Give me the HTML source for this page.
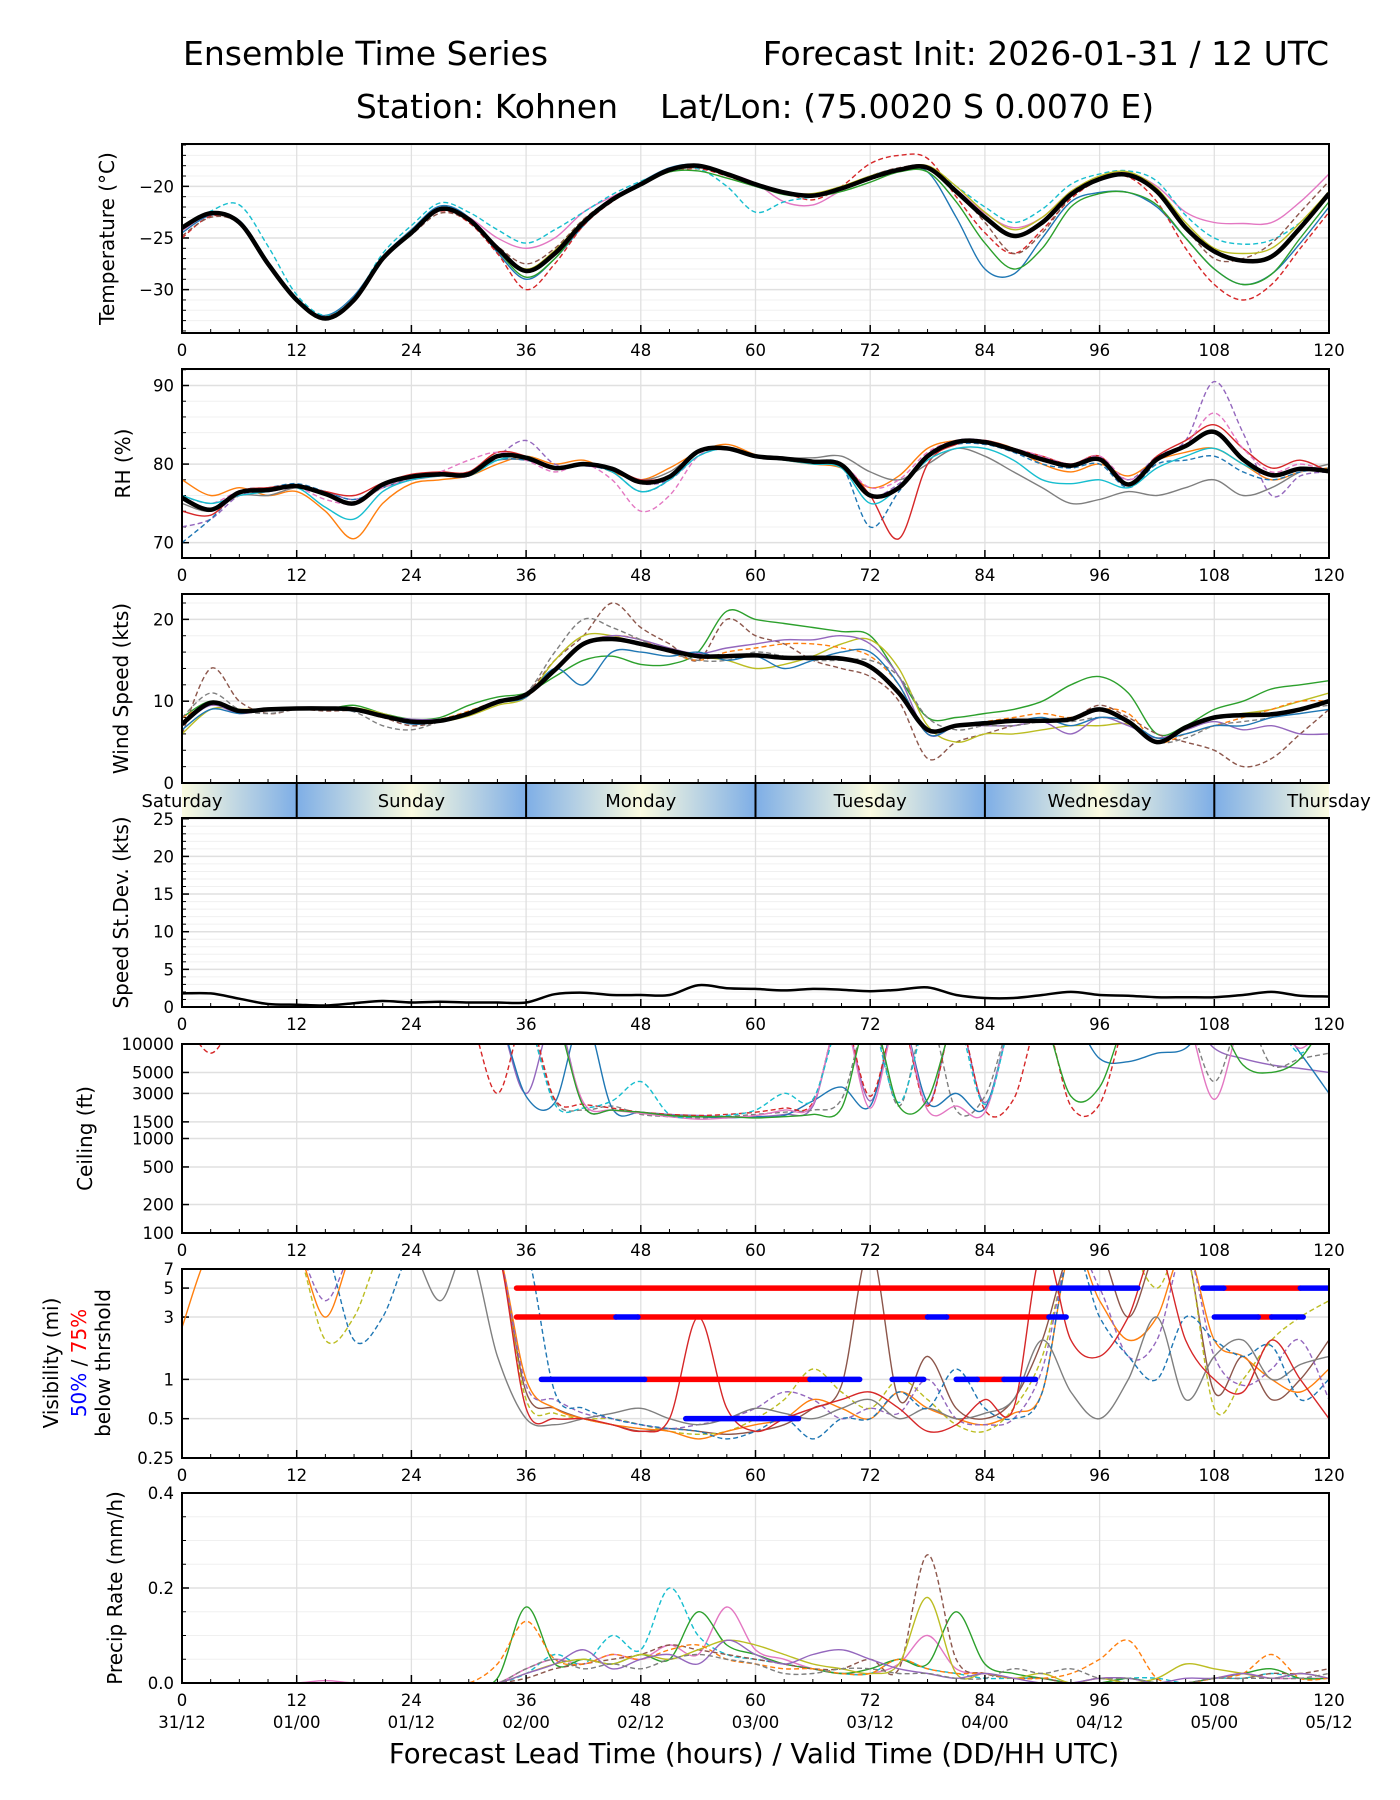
<!DOCTYPE html>
<html><head><meta charset="utf-8">
<style>
html,body{margin:0;padding:0;background:#fff;}
svg{display:block;font-family:"DejaVu Sans","Liberation Sans",sans-serif;}
</style></head>
<body>
<svg id="fig" xmlns="http://www.w3.org/2000/svg" width="1400" height="1800" viewBox="0 0 1400 1800">
<defs>
<linearGradient id="p2b" x1="0" y1="0" x2="1" y2="0"><stop offset="0" stop-color="#fbfbe0"/><stop offset="1" stop-color="#7eaee6"/></linearGradient>
<linearGradient id="b2p" x1="0" y1="0" x2="1" y2="0"><stop offset="0" stop-color="#7eaee6"/><stop offset="1" stop-color="#fbfbe0"/></linearGradient>
</defs>
<rect width="1400" height="1800" fill="#fff"/>
<text x="183" y="65" font-size="33">Ensemble Time Series</text>
<text x="1329" y="65" font-size="33" text-anchor="end">Forecast Init: 2026-01-31 / 12 UTC</text>
<text x="755" y="118" font-size="33" text-anchor="middle" xml:space="preserve">Station: Kohnen    Lat/Lon: (75.0020 S 0.0070 E)</text>
<g id="band"></g>
<g id="plots"></g>
<text x="754" y="1763" font-size="27.5" text-anchor="middle">Forecast Lead Time (hours) / Valid Time (DD/HH UTC)</text>
<g font-size="20" text-anchor="middle">
<text transform="translate(58,1363) rotate(-90)">Visibility (mi)</text>
<text transform="translate(86,1363) rotate(-90)"><tspan fill="#0000ff">50%</tspan> / <tspan fill="#ff0000">75%</tspan></text>
<text transform="translate(110,1363) rotate(-90)">below thrshold</text>
</g>
</svg>
<script>
// ---------- data (3-hourly, lead hours 0..120) ----------
const hours = Array.from({length:41},(_,i)=>i*3);
const xTicks = [0,12,24,36,48,60,72,84,96,108,120];
const validLabels = ["31/12","01/00","01/12","02/00","02/12","03/00","03/12","04/00","04/12","05/00","05/12"];
const dayNames = ["Saturday","Sunday","Monday","Tuesday","Wednesday","Thursday"];

const tempMean = [-24,-22.6,-23.5,-27.5,-31,-32.8,-31,-27,-24.5,-22.2,-23.2,-26,-28.2,-26.5,-23.5,-21.3,-19.8,-18.4,-18,-18.8,-19.8,-20.6,-20.9,-20.2,-19.2,-18.4,-18.2,-20.5,-23,-24.8,-23.5,-20.8,-19.3,-18.9,-20.5,-24,-26.3,-27.2,-26.8,-24,-20.7];
const tempM1 = [-24.5,-22.8,-23.3,-27.3,-31.2,-32.5,-30.6,-26.8,-24.2,-21.9,-23,-26.4,-29,-27,-23.8,-21.2,-19.6,-18.2,-17.9,-18.9,-20,-20.7,-21,-20.1,-19,-18.3,-18.6,-23,-28,-28.5,-25,-21.5,-20.6,-20.6,-22,-25,-28,-29.5,-28.5,-25.5,-22];
const tempM2 = [-25,-22.9,-23.6,-27.6,-31.1,-32.9,-31.2,-27.2,-24.6,-22.4,-23.5,-26.5,-30,-27.5,-23.8,-21.5,-19.9,-18.6,-18.3,-19,-20,-20.6,-21.3,-20,-17.8,-17,-17.3,-21,-24.5,-26.5,-24.2,-21.2,-19.4,-19.1,-21.5,-26,-29.5,-31,-29.5,-26,-22.5];
const tempM3 = [-24.3,-22.7,-23.4,-27.4,-31,-32.7,-31,-27,-24.4,-22.1,-23,-25,-26,-25,-22.5,-21,-19.7,-18.3,-18,-18.7,-19.7,-21.5,-21.8,-20.4,-19.3,-18.5,-18.3,-20.3,-22.6,-24,-23,-20.5,-19.1,-18.7,-20,-22.5,-23.5,-23.6,-23.5,-21.5,-18.8];
const tempM4 = [-24.2,-22.4,-21.8,-25.8,-30.5,-32.5,-30.8,-26.5,-23.8,-21.6,-22.5,-24.2,-25.5,-24.2,-22.5,-20.8,-19.5,-18.5,-18.3,-20,-22.5,-21.5,-21,-20.3,-19.3,-18.5,-18.2,-20,-22,-23.5,-22.2,-19.8,-18.8,-18.5,-19.5,-22.8,-25,-25.6,-25.2,-23.5,-21];
const tempM5 = [-24,-22.6,-23.5,-27.5,-31,-32.8,-31,-27,-24.5,-22.3,-23.3,-26.2,-28.8,-27,-23.6,-21.4,-19.9,-18.6,-18.5,-19.2,-20,-20.8,-21,-20.5,-19.6,-18.6,-18.6,-21.5,-25.5,-28,-26,-22,-20.7,-20.6,-21.8,-25,-28,-29.5,-28.5,-25,-21.5];
const tempM6 = [-24.8,-23,-23.6,-27.5,-31,-32.6,-30.8,-27,-24.7,-22.6,-23.3,-25.8,-27.5,-26,-23.2,-21.2,-19.8,-18.5,-18.2,-18.7,-19.7,-20.5,-21,-20.1,-19,-18.2,-18.1,-20.3,-23.5,-26.5,-24.5,-21,-19.4,-19,-20.5,-24,-27,-27,-25.5,-22.5,-19.5];
const tempM7 = [-24.2,-22.5,-23.4,-27.6,-31.2,-32.9,-30.9,-26.9,-24.3,-22.1,-23.1,-25.9,-28,-26.2,-23.3,-21.2,-19.7,-18.3,-18,-18.8,-19.8,-20.6,-20.7,-20,-19,-18.3,-18,-20,-22.5,-24.2,-23,-20.5,-19,-18.6,-20.2,-23.5,-26,-26.5,-26,-23.5,-20.5];

const rhMean = [75.7,74.2,76.4,76.7,77.2,76.2,75,77.4,78.4,78.7,78.7,81,80.8,79.5,80,79.4,77.7,78.4,81.6,82,81,80.7,80.3,79.9,76,77,81,82.8,82.8,81.8,80.6,79.8,80.6,77.4,80.6,82.3,84.1,80.6,78.6,79.4,79.1];
const rhM1 = [78,76,77,76,76.5,74,70.5,75,77.5,78,78.5,80,81,80,80.5,79,78,79.5,81.5,82.5,81.2,80.5,80,79.5,77,78.5,82,83,83,82,80,79,80,78.5,80.5,81.5,82,80,78,79,79.5];
const rhM2 = [72,73,76,76.5,77,76.5,75.5,77,78.2,78.5,78.5,81,83,80,79.8,79.2,77.5,78,81,82,81,80.6,80.2,79.8,76,77.5,81,83,83,82,80.8,80,80.5,78,81,83,90.5,84,76,78.5,79];
const rhM3 = [75,74,76,76,77,76.5,75,77,78,78.5,79,80.5,80.5,79.5,80.2,79.5,78,79,81.5,82,81,80.8,80.8,81,79,78,80,82,81,79,77,75,75.5,76.5,76,77,78,76,77,79,80];
const rhM4 = [70,73,76.5,77,77.5,76.5,75.5,77,78,78.5,78.5,80.5,80.5,79.5,79.8,79,76.5,78,81.5,82,81,80.7,80.3,79.8,72,76.5,81,82.5,82.5,81.5,80,79.5,80,77,80,80.5,81,79,78,79,79.5];
const rhM5 = [74,73.5,76.5,77,77.3,76.5,76,77.6,78.7,79,79,81.5,81,79.5,80,79.5,78,78.5,81.5,82,81,80.7,80.3,80,76,70.5,80,82.5,83,82,81,80,81,77.5,81,83,85,82,79.5,80.5,79];
const rhM6 = [76,75,76.5,76.5,77,75.5,75,77,78,79,80.5,81.5,80.5,79,80,78,74,76,81,82,81,80.6,80.3,80,77,78,81.5,83,83,82,81,80,81,78,80.5,82.5,86.5,82,79,80,79];
const rhM7 = [76,75,76,76.5,77,74.5,73,76.5,78,78.5,78.5,80.5,81,79.5,80,79,76.5,78,81,82,81,80.5,80,79.5,75,77,80.5,82,82,80.5,78,77.5,78,77,79.5,81,82,80,78.5,79.5,79];

const windMean = [7.2,9.8,8.8,9.0,9.1,9.1,9.0,8.2,7.5,7.6,8.5,9.9,10.8,13.8,17,17.6,17,16.2,15.5,15.5,15.6,15.3,15.3,15.2,14.2,11,6.5,7,7.3,7.6,7.6,7.8,9.0,7.5,5.0,6.8,8.0,8.3,8.4,9.0,10];
const windM1 = [8,10,9,9,9.2,9,9.5,8.5,7.8,8,9.5,10.5,11,13,15,15.5,14.5,14.5,16,21,20,19.5,19,18.5,18,13,8,8,8.5,9,10,12,13,11,6,7,9,10,11.5,12,12.5];
const windM2 = [6,14,10,8.5,9,8.8,8.8,8,7,7.5,8.5,10,11,15,18,22,19,17,15,20,18,17,15,14,13,10,3,5,6,7,7.5,7.8,9.5,8,6,5,4,2,3,6,9];
const windM3 = [6,9,9,9,9,9.2,9.2,8.5,7.5,7.5,8.2,9.5,10.5,15,18,18,17,16.5,15.5,15,14,14.5,15.5,17,17.5,14,7,5,6,6,6.5,7,7,7.2,5.5,6.5,8,8.5,9,10,11];
const windM4 = [8,9.5,9,9,9,9,9,8,7.5,7.8,8.8,10,10.5,14,17,18,17.5,16,15,16,16.5,17,17,16.5,15.5,12,6,7,7.5,8,8.5,8,9,8.5,5,6,7,8,9,10,10];
const windM5 = [7,9.5,8.5,9,9.2,9,9,8.2,7.8,7.8,8.5,9.8,11,14,17,18,17.5,16.5,15.8,16.5,17,17.5,17.5,18,17,13,6,7,7,7,7.5,6,8,7,5.5,6.5,7.5,6.5,7,6,6];
const windM6 = [8,11,9,8.5,9,9,8.7,7,6.5,7.5,8.5,10,11,16,20,19,17.5,16,15,15,16,15.5,15,15,15,13,8,6.5,7,7,7.5,7.5,8,7.5,5,5.5,7,7.5,8,9,9.5];
const windM7 = [6.5,9,8.5,9,9,9,8.8,8.2,7.2,7.5,8.5,9.8,10.5,14,12,16,16,15.5,16,15,15.5,14,15,16,16,12,6,7,7.5,7.5,8,7,8,7.5,5.5,6,7,7,8,8.5,9];

const sdev = [1.8,1.8,1.1,0.4,0.3,0.2,0.5,0.8,0.6,0.7,0.6,0.6,0.6,1.7,1.9,1.6,1.6,1.6,2.9,2.5,2.4,2.2,2.4,2.3,2.1,2.3,2.6,1.6,1.2,1.2,1.6,2.0,1.6,1.5,1.3,1.3,1.3,1.6,2.0,1.5,1.4];

const ceilC1 = [20000,20000,20000,20000,20000,20000,20000,20000,20000,20000,20000,20000,3000,20000,2200,2000,1900,1800,1750,1700,1700,1800,2200,20000,2500,20000,2300,20000,2400,20000,20000,20000,20000,20000,20000,20000,9000,7000,6000,5500,5000];
const ceilC2 = [20000,20000,20000,20000,20000,20000,20000,20000,20000,20000,20000,20000,20000,2500,2000,2200,1800,1700,1650,1700,1800,1900,2000,2600,20000,2200,20000,2000,2800,20000,20000,20000,20000,20000,20000,20000,4000,20000,6000,7000,8000];
const ceilC3 = [20000,20000,20000,20000,20000,20000,20000,20000,20000,20000,20000,20000,2800,2400,20000,2100,1900,1750,1700,1650,1700,1750,2500,3500,2200,20000,2400,3000,2100,20000,20000,20000,7000,6500,8000,9000,20000,20000,20000,8000,3000];
const ceilC4 = [20000,8000,20000,20000,20000,20000,20000,20000,20000,20000,20000,3000,20000,2600,2300,2100,1900,1800,1750,1800,1900,2100,2400,20000,2800,20000,2200,20000,2000,2600,20000,2200,2300,20000,20000,20000,20000,20000,20000,20000,20000];
const ceilC5 = [20000,20000,20000,20000,20000,20000,20000,20000,20000,20000,20000,20000,20000,20000,2400,2000,1850,1700,1600,1650,1750,2000,2300,20000,2100,20000,2000,2200,1900,20000,20000,20000,20000,20000,20000,20000,2600,20000,20000,9000,20000];
const ceilC6 = [20000,20000,20000,20000,20000,20000,20000,20000,20000,20000,20000,20000,20000,2300,2100,2500,4000,1800,1700,1750,2000,3000,2600,20000,20000,2400,20000,20000,2300,20000,20000,20000,20000,20000,20000,20000,20000,20000,20000,8000,20000];
const ceilC7 = [20000,20000,20000,20000,20000,20000,20000,20000,20000,20000,20000,20000,20000,20000,2200,2000,1900,1750,1700,1700,1650,1700,1800,2100,20000,2200,2600,20000,20000,20000,20000,2800,3500,20000,20000,20000,20000,6000,5000,7000,20000];

const visV1 = [10,10,10,10,10,10,10,10,10,10,10,10,0.8,0.6,0.5,0.45,0.4,0.42,0.4,0.38,0.4,0.45,0.6,0.9,10,0.7,1.5,0.6,0.5,0.7,2,10,10,3,10,10,0.8,1.5,0.7,1,2];
const visV2 = [10,10,10,10,10,2,3,10,10,10,10,10,0.7,0.55,0.5,0.5,0.45,0.4,0.38,0.4,0.5,0.7,1.2,0.8,0.6,1,0.7,0.45,0.4,0.6,1.5,10,10,10,5,10,0.6,1,2,3,4];
const visV3 = [2.5,10,10,10,10,3,10,10,10,10,10,10,1,0.6,0.5,0.45,0.42,0.4,0.35,0.4,0.45,0.5,0.7,0.6,0.5,0.8,0.6,0.5,0.45,0.55,0.8,10,4,2,3,10,2,1.5,1,0.8,1.2];
const visV4 = [10,10,10,10,10,4,10,10,10,10,10,10,0.9,0.7,0.55,0.5,0.45,0.42,0.45,0.5,0.6,0.8,0.7,0.5,0.6,0.55,1,0.5,0.45,0.5,1.2,10,5,1.5,2,10,1.5,0.9,1.2,2,0.7];
const visV5 = [10,10,10,10,10,10,10,10,10,4,10,1.5,0.5,0.45,0.5,0.55,0.6,0.5,0.45,0.5,0.6,0.55,0.5,0.6,0.7,0.5,0.6,0.5,0.55,0.7,2,0.8,0.5,1,3,0.7,1.5,2,1,1.3,1.5];
const visV6 = [10,10,10,10,10,10,2,3,10,10,10,10,10,0.8,0.6,0.5,0.45,0.42,0.4,0.35,0.4,0.5,0.35,0.5,0.5,0.8,0.6,1.2,0.6,0.5,0.8,10,3,1.5,1,3,2,1.5,1.8,0.7,1];
const visV7 = [10,10,10,10,10,10,10,10,10,10,10,10,0.6,0.5,0.5,0.45,0.4,0.5,3,0.6,0.4,0.5,0.6,0.7,0.8,0.6,0.4,0.45,0.7,0.6,10,2,1.5,3,10,2,1,0.8,2,1,0.5];

// threshold bars: [startHour, endHour, level]
const thrRed = [[35,91,5],[109,117,5],[35,45.4,3],[47.7,78,3],[80,90.7,3],[112.6,114,3],[48.4,65.7,1],[83.2,86,1]];
const thrBlue = [[91,100,5],[106.8,109,5],[117,120,5],[45.4,47.7,3],[78,80,3],[90.7,92.5,3],[108,112.6,3],[114,117.3,3],[37.6,48.4,1],[65.7,70.9,1],[74.3,77.6,1],[81,83.2,1],[86,89.3,1],[52.7,64.5,0.5]];

const prP1 = [0,0,0,0,0,0.005,0,0,0,0,0,0,.03,.05,.04,.06,.05,.08,.06,.16,.07,.05,.03,.02,.02,.04,.1,.03,.02,.01,.01,0,.01,.01,0,0,.01,.02,.01,.01,.01];
const prP2 = [0,0,0,0,0,0,0,0,0,0,0,0,.02,.06,.04,.1,.07,.2,.1,.06,.05,.04,.03,.02,.02,.05,.03,.02,.01,.01,.01,0,0,.01,.01,0,.01,.01,.02,.01,.01];
const prP3 = [0,0,0,0,0,0,0,0,0,0,0,.01,.16,.04,.05,.04,.06,.05,.15,.08,.06,.04,.03,.02,.03,.05,.04,.15,.04,.02,.01,0,0,.01,0,0,.01,.02,.03,.01,.01];
const prP4 = [0,0,0,0,0,0,0,0,0,0,0,0,.01,.03,.04,.05,.06,.08,.07,.06,.05,.04,.03,.03,.05,.03,.27,.05,.02,.01,.01,0,.01,0,0,0,.01,.01,.02,.02,.03];
const prP5 = [0,0,0,0,0,0,0,0,0,0,0,0,.02,.04,.05,.04,.06,.05,.07,.09,.08,.06,.04,.03,.02,.04,.18,.02,.02,.01,.02,0,.01,0,.01,.04,.03,.02,.01,.02,.01];
const prP6 = [0,0,0,0,0,0,0,0,0,0,0,.04,.13,.05,.04,.06,.05,.07,.08,.05,.04,.03,.03,.02,.02,.05,.03,.02,.02,.01,.01,.02,.05,.09,.01,0,.01,.02,.06,.01,.01];
const prP7 = [0,0,0,0,0,0,0,0,0,0,0,0,.02,.04,.07,.03,.05,.06,.04,.09,.06,.04,.06,.07,.05,.03,.02,.01,.02,.01,0,0,.01,.01,0,.01,.01,.02,.01,.02,.01];
const prP8 = [0,0,0,0,0,0,0,0,0,0,0,0,.03,.05,.03,.04,.03,.05,.06,.05,.04,.02,.02,.03,.03,.02,.02,.01,.01,.03,.02,.03,.01,.01,0,0,.01,.01,.01,.01,.02];

// ---------- drawing ----------
const NS = "http://www.w3.org/2000/svg";
const X0 = 182, X1 = 1329;
const COLORS = ["#1f77b4","#ff7f0e","#2ca02c","#d62728","#9467bd","#8c564b","#e377c2","#7f7f7f","#bcbd22","#17becf"];
const plots = document.getElementById('plots');
function mk(tag, attrs, parent){ const e=document.createElementNS(NS,tag); for(const k in attrs) e.setAttribute(k,attrs[k]); (parent||plots).appendChild(e); return e; }
function sx(h){ return X0 + h/120*(X1-X0); }
function sy(p,v){
  if(p.log){ const lv=Math.log10(Math.max(v,1e-6)); const f=(lv-Math.log10(p.min))/(Math.log10(p.max)-Math.log10(p.min)); return p.bot - f*(p.bot-p.top); }
  return p.bot - (v-p.min)/(p.max-p.min)*(p.bot-p.top);
}
function smoothPath(pts){
  let d = "M"+pts[0][0].toFixed(1)+","+pts[0][1].toFixed(1);
  for(let i=0;i<pts.length-1;i++){
    const p0=pts[Math.max(0,i-1)], p1=pts[i], p2=pts[i+1], p3=pts[Math.min(pts.length-1,i+2)];
    const c1x=p1[0]+(p2[0]-p0[0])/6, c1y=p1[1]+(p2[1]-p0[1])/6;
    const c2x=p2[0]-(p3[0]-p1[0])/6, c2y=p2[1]-(p3[1]-p1[1])/6;
    d += " C"+c1x.toFixed(1)+","+c1y.toFixed(1)+" "+c2x.toFixed(1)+","+c2y.toFixed(1)+" "+p2[0].toFixed(1)+","+p2[1].toFixed(1);
  }
  return d;
}
function fmt(v){ return (v<0?"\u2212":"")+Math.abs(v); }

const panels = [
  {id:"temperature", top:144, bot:333, min:-34.2, max:-15.9, ticks:[-30,-25,-20], minor:1, title:"Temperature (\u00b0C)", tx:114,
   members:[tempM1,tempM2,tempM3,tempM4,tempM5,tempM6,tempM7], mean:tempMean},
  {id:"rh", top:369, bot:558, min:68.05, max:92.1, ticks:[70,80,90], minor:2, title:"RH (%)", tx:130,
   members:[rhM1,rhM2,rhM3,rhM4,rhM5,rhM6,rhM7], mean:rhMean},
  {id:"wind-speed", top:594, bot:783, min:0, max:23.1, ticks:[0,10,20], minor:2, title:"Wind Speed (kts)", tx:128, noXLabels:true,
   members:[windM1,windM2,windM3,windM4,windM5,windM6,windM7], mean:windMean},
  {id:"speed-stdev", top:818, bot:1007, min:0, max:25.1, ticks:[0,5,10,15,20,25], minor:1, title:"Speed St.Dev. (kts)", tx:128,
   members:[], mean:sdev, meanW:2.5},
  {id:"ceiling", top:1044, bot:1233, min:100, max:10000, log:true, ticks:[100,200,500,1000,1500,3000,5000,10000], title:"Ceiling (ft)", tx:92,
   members:[ceilC1,ceilC2,ceilC3,ceilC4,ceilC5,ceilC6,ceilC7]},
  {id:"visibility", top:1269, bot:1458, min:0.25, max:7, log:true, ticks:[0.25,0.5,1,3,5,7], title:null,
   members:[visV1,visV2,visV3,visV4,visV5,visV6,visV7]},
  {id:"precip-rate", top:1493, bot:1683, min:0, max:0.4, ticks:[0,0.2,0.4], tickFmt:v=>v.toFixed(1), minor:0.05, title:"Precip Rate (mm/h)", tx:122,
   members:[prP1,prP2,prP3,prP4,prP5,prP6,prP7,prP8]}
];

panels.forEach((p,pi)=>{
  const g = mk('g',{});
  
  
  const cp = mk('clipPath',{id:'clip'+pi}, g);
  mk('rect',{x:X0,y:p.top,width:X1-X0,height:p.bot-p.top}, cp);
  if(p.minor){
    for(let v=Math.ceil(p.min/p.minor)*p.minor; v<=p.max+1e-9; v+=p.minor){
      const y=sy(p,v);
      const l=mk('line',{x1:X0,x2:X1,y1:y,y2:y,stroke:"#f0f0f0","stroke-width":1},g);
      
      
      const t=mk('line',{x1:X0,x2:X0+4,y1:y,y2:y,stroke:"#000","stroke-width":1},g);
      
      
    }
  }
  xTicks.forEach(h=>{
    const l=mk('line',{x1:sx(h),x2:sx(h),y1:p.top,y2:p.bot,stroke:"#e0e0e0","stroke-width":1.3},g);
    
    
  });
  p.ticks.forEach(v=>{
    const y=sy(p,v);
    const l=mk('line',{x1:X0,x2:X1,y1:y,y2:y,stroke:"#e0e0e0","stroke-width":1.5},g);
    
    
    const t=mk('line',{x1:X0,x2:X0+7,y1:y,y2:y,stroke:"#000","stroke-width":1.5},g);
    
    
    const lab=mk('text',{x:X0-8,y:y+6,"font-size":16.5,"text-anchor":"end"},g);
    lab.textContent = p.tickFmt ? p.tickFmt(v) : fmt(v);
    
    
  });
  const sg = mk('g',{"clip-path":"url(#clip"+pi+")"},g);
  
  
  p.members.forEach((arr,mi)=>{
    const pts = arr.map((v,i)=>[sx(hours[i]), sy(p,v)]);
    const path = mk('path',{d:smoothPath(pts),fill:"none",stroke:COLORS[(mi*3+pi)%10],"stroke-width":1.4,"stroke-dasharray":(mi%2? "5,3":"none")},sg);
    
    
  });
  if(p.mean){
    const pts = p.mean.map((v,i)=>[sx(hours[i]), sy(p,v)]);
    const path = mk('path',{d:smoothPath(pts),fill:"none",stroke:"#000","stroke-width":p.meanW||4.5,"stroke-linejoin":"round"},sg);
    
    
  }
  if(p.id==="visibility"){
    [[thrRed,"#ff0000"],[thrBlue,"#0000ff"]].forEach(([segs,col])=>{
      segs.forEach(s=>{
        const l=mk('line',{x1:sx(s[0]),x2:sx(s[1]),y1:sy(p,s[2]),y2:sy(p,s[2]),stroke:col,"stroke-width":5.5,"stroke-linecap":"round"},sg);
        
        
      });
    });
  }
  for(let h=0; h<=120; h+=3){
    const major = h%12===0;
    const t=mk('line',{x1:sx(h),x2:sx(h),y1:p.bot,y2:p.bot-(major?8:4),stroke:"#000","stroke-width":major?1.5:1},g);
    
    
  }
  if(!p.noXLabels){
    xTicks.forEach(h=>{
      const lab=mk('text',{x:sx(h),y:p.bot+23,"font-size":16.5,"text-anchor":"middle"},g);
      lab.textContent = String(h);
      
      
    });
  }
  const fr=mk('rect',{x:X0,y:p.top,width:X1-X0,height:p.bot-p.top,fill:"none",stroke:"#000","stroke-width":2},g);
  
  
  if(p.title){
    const tt=mk('text',{transform:"translate("+p.tx+","+((p.top+p.bot)/2)+") rotate(-90)","font-size":20,"text-anchor":"middle"},g);
    tt.textContent = p.title;
    
    
  }
});

validLabels.forEach((s,i)=>{
  const lab=mk('text',{x:sx(xTicks[i]),y:1728,"font-size":16.5,"text-anchor":"middle"});
  lab.textContent = s;
  
  
});

const band = document.getElementById('band');
const BT=784, BB=817;
for(let h=0; h<120; h+=12){
  const grad = (h/12)%2===0 ? "url(#p2b)" : "url(#b2p)";
  const r=mk('rect',{x:sx(h),y:BT,width:sx(h+12)-sx(h),height:BB-BT,fill:grad},band);
  
  
}
[12,36,60,84,108].forEach(h=>{
  const l=mk('line',{x1:sx(h),x2:sx(h),y1:BT,y2:BB,stroke:"#000","stroke-width":2},band);
  
  
});
dayNames.forEach((d,i)=>{
  const t=mk('text',{x:sx(i*24),y:BT+23,"font-size":18,"text-anchor":"middle"},band);
  t.textContent = d;
  
  
});
</script>
</body></html>
